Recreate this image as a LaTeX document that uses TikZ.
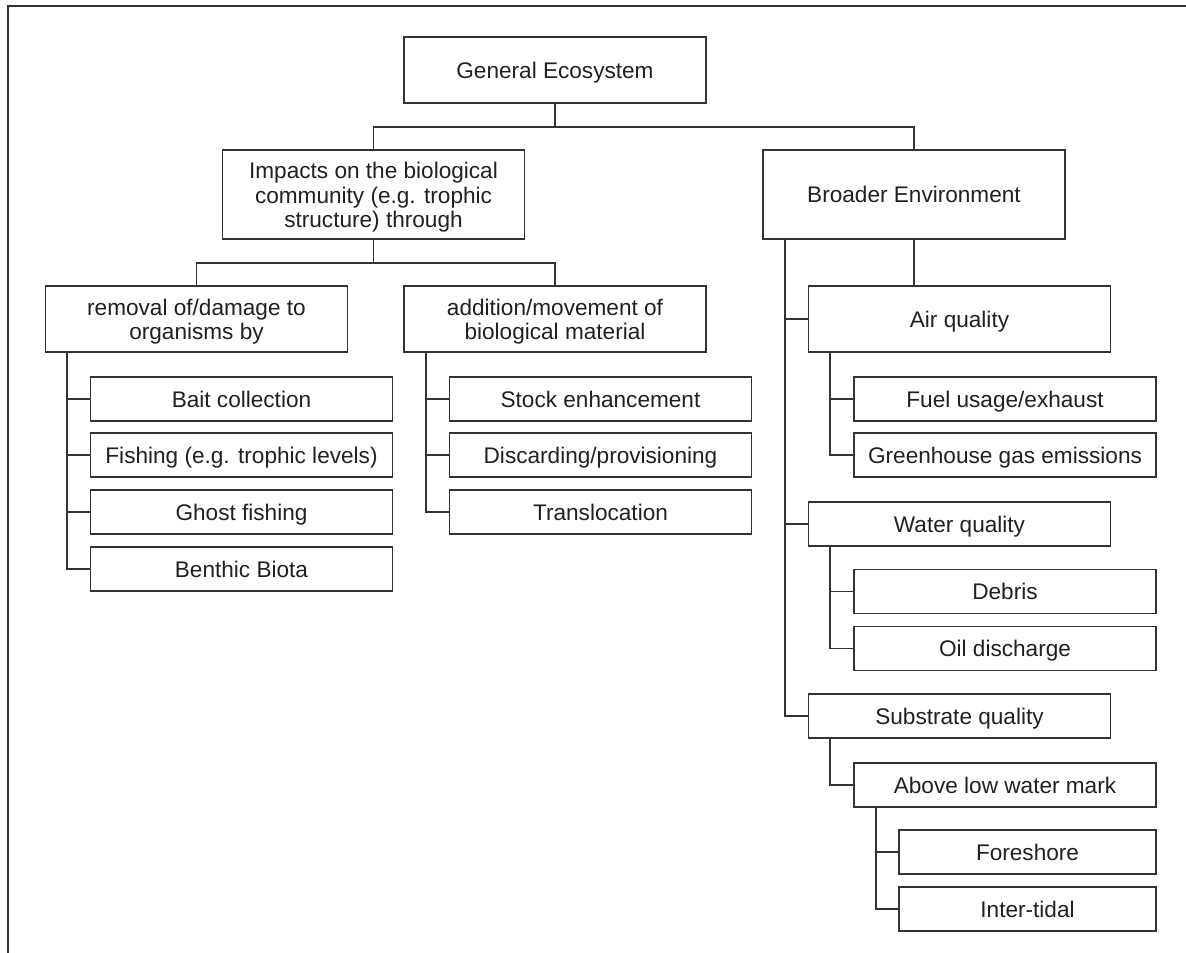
\documentclass[tikz,border=0pt]{standalone}
\usepackage{fontspec}
\setmainfont{Liberation Sans}
\definecolor{linegray}{HTML}{333333}
\definecolor{textgray}{HTML}{231F20}
\newcommand{\topstrut}{\rule{0pt}{22pt}}
\begin{document}
\begin{tikzpicture}[x=1pt,y=-1pt,
  every node/.style={font=\fontsize{22.6}{24.5}\selectfont, text=textgray},
  box/.style={draw=linegray, line width=1.6pt, rectangle, inner sep=0pt, align=center},
  one/.style={text height=16.2pt, text depth=0pt},
  wide/.style={minimum width=302pt},
  tall/.style={minimum height=89pt},
  mid/.style={minimum height=66pt},
  low/.style={minimum height=44pt},
  link/.style={draw=linegray, line width=1.6pt},
]
\useasboundingbox (0,0) rectangle (1186,953);

% page frame (left and top edges)
\draw[draw=linegray, line width=2pt] (7.5,953) -- (7.5,6) -- (1186,6);

% top level
\node[box,one,wide,mid] (gen) at (555,70) {General Ecosystem};
\node[box,wide,tall] (imp) at (373.5,194.5) {\topstrut Impacts on the biological\\community (e.g. trophic\\structure) through};
\node[box,one,wide,tall] (bro) at (914,194.5) {Broader Environment};

% biological community branches
\node[box,wide,mid] (rem) at (196.5,319) {\topstrut removal of/damage to\\organisms by};
\node[box,wide,mid] (add) at (555,319) {\topstrut addition/movement of\\biological material};

\node[box,one,wide,low] (bait)  at (241.5,399) {Bait collection};
\node[box,one,wide,low] (fish)  at (241.5,455) {Fishing (e.g. trophic levels)};
\node[box,one,wide,low] (ghost) at (241.5,512) {Ghost fishing};
\node[box,one,wide,low] (benth) at (241.5,569) {Benthic Biota};

\node[box,one,wide,low] (stock) at (600.5,399) {Stock enhancement};
\node[box,one,wide,low] (disc)  at (600.5,455) {Discarding/provisioning};
\node[box,one,wide,low] (trans) at (600.5,512) {Translocation};

% broader environment branches
\node[box,one,wide,mid] (air) at (959.5,319) {Air quality};
\node[box,one,wide,low] (fuel) at (1005,399) {Fuel usage/exhaust};
\node[box,one,wide,low] (ghg)  at (1005,455) {Greenhouse gas emissions};

\node[box,one,wide,low] (water) at (959.5,524) {Water quality};
\node[box,one,wide,low] (debris) at (1005,591.5) {Debris};
\node[box,one,wide,low] (oil)    at (1005,648.5) {Oil discharge};

\node[box,one,wide,low] (sub) at (959.5,716) {Substrate quality};
\node[box,one,wide,low] (above) at (1005,785) {Above low water mark};
\node[box,one,minimum width=257pt,low] (fore)  at (1027.5,852) {Foreshore};
\node[box,one,minimum width=257pt,low] (inter) at (1027.5,909) {Inter-tidal};

% junctions
\coordinate (j1) at (555,127);
\coordinate (j2) at (373.5,263);
\coordinate (tRem)   at ([xshift=22pt]rem.south west);
\coordinate (tAdd)   at ([xshift=23pt]add.south west);
\coordinate (tBro)   at ([xshift=23pt]bro.south west);
\coordinate (tAir)   at ([xshift=22pt]air.south west);
\coordinate (tWater) at ([xshift=22pt]water.south west);
\coordinate (tSub)   at ([xshift=22pt]sub.south west);
\coordinate (tAbove) at ([xshift=23pt]above.south west);

% connectors
\path[link] (gen.south) -- (j1);
\path[link] (imp.north) |- (j1) -| (bro.north);
\path[link] (imp.south) -- (j2);
\path[link] (rem.north) |- (j2) -| (add.north);

\path[link] (tRem) |- (benth.west);
\foreach \n in {bait,fish,ghost} \path[link] (\n.west) -- (\n.west -| tRem);

\path[link] (tAdd) |- (trans.west);
\foreach \n in {stock,disc} \path[link] (\n.west) -- (\n.west -| tAdd);

\path[link] (bro.south) -- (bro.south |- air.north);
\path[link] (tBro) |- (sub.west);
\foreach \n in {air,water} \path[link] (\n.west) -- (\n.west -| tBro);

\path[link] (tAir) |- (ghg.west);
\path[link] (fuel.west) -- (fuel.west -| tAir);

\path[link] (tWater) |- (oil.west);
\path[link] (debris.west) -- (debris.west -| tWater);

\path[link] (tSub) |- (above.west);

\path[link] (tAbove) |- (inter.west);
\path[link] (fore.west) -- (fore.west -| tAbove);
\end{tikzpicture}
\end{document}
